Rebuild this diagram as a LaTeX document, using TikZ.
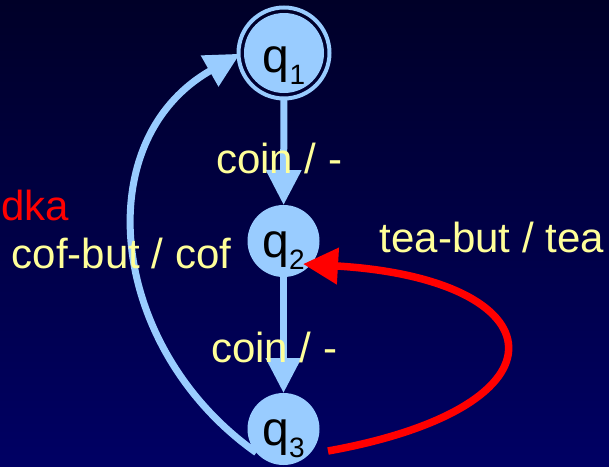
\documentclass[tikz,border=0pt]{standalone}
\usepackage{fontspec}
\setmainfont{Liberation Sans}
\usetikzlibrary{arrows.meta}
\definecolor{bgtop}{RGB}{0,0,40}
\definecolor{bgbot}{RGB}{0,0,100}
\definecolor{stateblue}{RGB}{153,204,255}
\definecolor{labelyellow}{RGB}{255,255,153}
\definecolor{errred}{RGB}{255,0,0}
\tikzset{
  state/.style={circle, fill=stateblue, inner sep=0pt, outer sep=0pt, minimum size=72pt, text=black},
  startstate/.style={state, minimum size=80pt, outer sep=4pt},
  ring/.style={draw=stateblue, line width=4pt},
  bluearrow/.style={draw=stateblue, line width=7pt, -{Triangle[length=35pt,width=34pt]}},
  redarrow/.style={draw=errred, line width=7.5pt, -{Triangle[length=35pt,width=35pt]}},
  lbl/.style={text=labelyellow, anchor=base west, inner sep=0pt, font=\fontsize{42}{50}\selectfont},
}
\newcommand{\qlab}[2]{\raisebox{#2}[0pt][0pt]{\fontsize{48}{54}\selectfont q\raisebox{-12pt}{\fontsize{28}{30}\selectfont #1}}}
\begin{document}
\begin{tikzpicture}[x=1pt,y=-1pt]
  \useasboundingbox (0,0) rectangle (609,466);
  \shade[top color=bgtop, bottom color=bgbot] (0,0) rectangle (609,466);
  % states
  \node[startstate] (q1) at (284,53) {\qlab{1}{-19pt}};
  \draw[ring] (q1.center) circle[radius=45.5pt];
  \node[state] (q2) at (283.5,241) {\qlab{2}{-16pt}};
  \node[state] (q3) at (283.5,429) {\qlab{3}{-16pt}};
  \coordinate (redstart) at (328,451);
  \coordinate (redtip) at (303,264);
  % transitions
  \draw[bluearrow] (q1) -- (q2);
  \draw[bluearrow] (q2) -- (q3);
  \draw[bluearrow] (q3.221) .. controls (109.5,349) and (86,141.4) .. (q1.181);
  \draw[redarrow] (redstart) .. controls (578,406) and (557,279) .. (redtip);
  % labels
  \node[lbl] (lc1) at (216,173) {coin / -};
  \node[lbl] (lc2) at (211,362) {coin / -};
  \node[lbl, text=errred] (ldka) at (1,220) {dka};
  \node[lbl] (lcof) at (11.5,268) {cof-but / cof};
  \node[lbl] (ltea) at (379.5,252) {tea-but / tea};
\end{tikzpicture}
\end{document}
